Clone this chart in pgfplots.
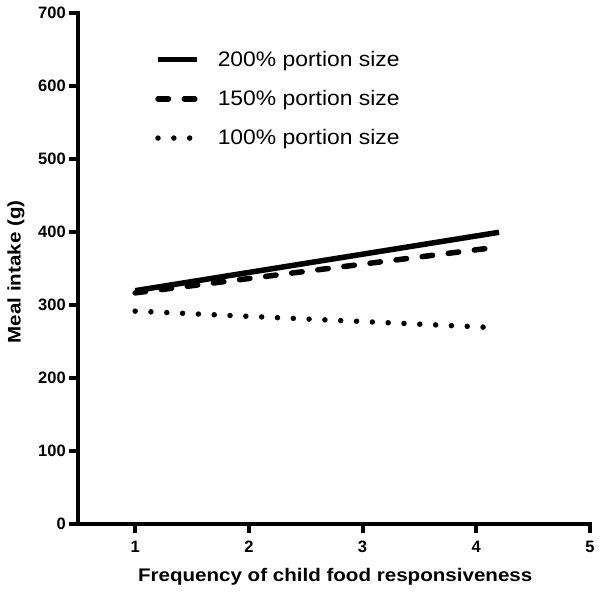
\documentclass[border=0pt]{standalone}
\usepackage{pgfplots}
\pgfplotsset{compat=1.18}
\usepackage{fontspec}
\setmainfont{Liberation Sans}
\newfontfamily\labfont[FakeStretch=1.13]{Liberation Sans}
\newfontfamily\legfont[FakeStretch=1.09]{Liberation Sans}
\begin{document}
\begin{tikzpicture}
\begin{axis}[
  name=ax,
  scale only axis, width=511.7pt, height=511pt,
  xmin=0.5, xmax=5, ymin=0, ymax=700,
  axis x line*=bottom, axis y line*=left,
  xtick={1,2,3,4,5}, ytick={0,100,...,700},
  tick align=outside, major tick length=9pt,
  every tick/.style={line width=4pt, black},
  axis line style={line width=4pt, line cap=rect},
  ticklabel style={font=\fontsize{16.5}{18}\selectfont\bfseries},
  xticklabel style={yshift=-4pt},
  /pgf/number format/assume math mode=true,
  xlabel={Frequency of child food responsiveness},
  ylabel={Meal intake (g)},
  label style={font=\labfont\fontsize{18.2}{20}\selectfont\bfseries},
  xlabel style={at={(axis description cs:0.502,-0.1123)}, anchor=base},
  ylabel style={at={(axis description cs:-0.1217,0.494)}, anchor=center},
  legend style={draw=none, fill=none, at={(axis description cs:0.150,0.93)}, anchor=north west,
    font=\legfont\fontsize{21}{23}\selectfont, row sep=18.5pt, inner sep=0pt,
    /tikz/every odd column/.append style={column sep=16pt}},
  legend cell align=left,
  legend image code/.code={\draw[#1] (0pt,0pt) -- (39pt,0pt);},
  clip=false,
]
\addplot[black, line width=5.5pt] coordinates {(1,320) (4.2,400)};
\addlegendentry{200\% portion size}
\addplot[black, line width=5.5pt, line cap=round, dash pattern=on 10.5pt off 15.8pt] coordinates {(1,317) (4.1,378)};
\addlegendentry{150\% portion size}
\addplot[black, line width=5.5pt, line cap=round, dash pattern=on 0pt off 15.83pt] coordinates {(1,292) (4.08,270)};
\addlegendentry{100\% portion size}
\end{axis}
\path ([shift={(-78.3pt,-68.7pt)}]ax.south west) rectangle ([shift={(12pt,13.3pt)}]ax.north east);
\end{tikzpicture}
\end{document}
